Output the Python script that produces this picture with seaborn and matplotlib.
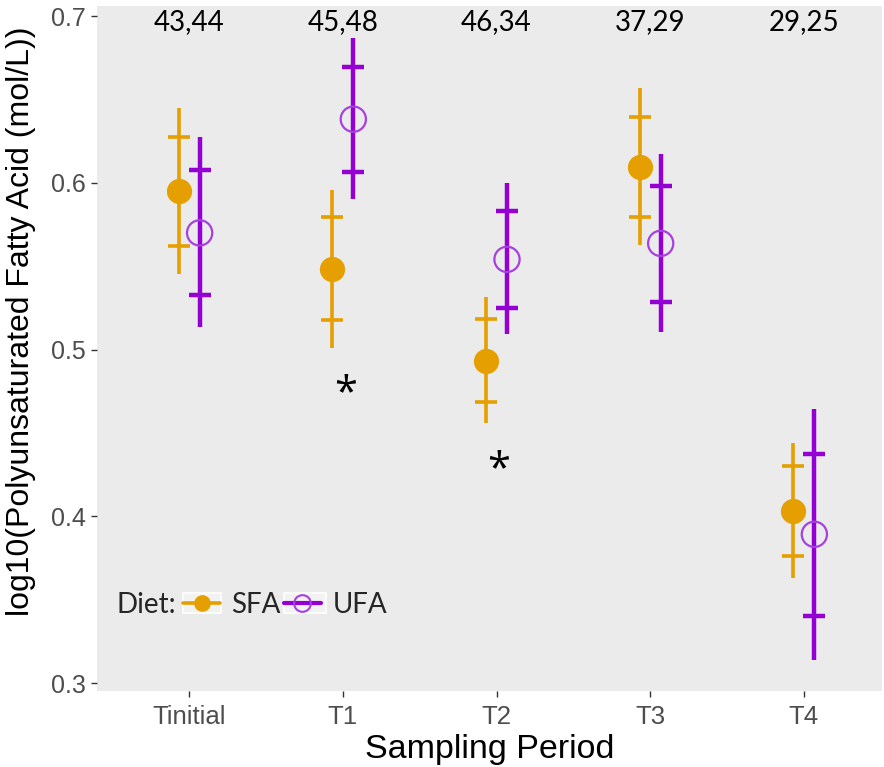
import numpy as np
import pandas as pd
import seaborn as sns
import matplotlib.pyplot as plt
from matplotlib.lines import Line2D
from matplotlib.patches import Rectangle

periods = ['Tinitial', 'T1', 'T2', 'T3', 'T4']
diets = ['SFA', 'UFA']
counts = ['43,44', '45,48', '46,34', '37,29', '29,25']

sfa_mean = [0.595, 0.5485, 0.4931, 0.6093, 0.4031]
sfa_outer_lo = [0.5452, 0.5011, 0.4561, 0.5627, 0.3628]
sfa_outer_hi = [0.6448, 0.5957, 0.5317, 0.6566, 0.4441]
sfa_inner_lo = [0.5623, 0.5177, 0.4685, 0.5793, 0.3763]
sfa_inner_hi = [0.6273, 0.5793, 0.5183, 0.6396, 0.4300]

ufa_mean = [0.570, 0.6382, 0.5541, 0.5637, 0.3892]
ufa_outer_lo = [0.5135, 0.5903, 0.5093, 0.5103, 0.3138]
ufa_outer_hi = [0.6276, 0.6870, 0.5997, 0.6172, 0.4641]
ufa_inner_lo = [0.5325, 0.6066, 0.5251, 0.5287, 0.3400]
ufa_inner_hi = [0.6076, 0.6692, 0.5832, 0.5980, 0.4373]

# significance marks
star_period = ['T1', 'T2']
star_y = [0.4733, 0.4277]

df = pd.DataFrame({
    'period': periods * 2,
    'diet': ['SFA'] * 5 + ['UFA'] * 5,
    'mean': sfa_mean + ufa_mean,
    'olo': sfa_outer_lo + ufa_outer_lo,
    'ohi': sfa_outer_hi + ufa_outer_hi,
    'ilo': sfa_inner_lo + ufa_inner_lo,
    'ihi': sfa_inner_hi + ufa_inner_hi,
})
dodge = {'SFA': -0.068, 'UFA': 0.068}
df['x'] = df['period'].map({p: i for i, p in enumerate(periods)}) + df['diet'].map(dodge)

sns.set_theme(style='white')
plt.rcParams['font.family'] = ['Liberation Sans', 'DejaVu Sans']
colors = {'SFA': '#E69F00', 'UFA': '#9400D3'}
lw = {'SFA': 2.6, 'UFA': 3.2}

fig = plt.figure(figsize=(8.84, 7.67), dpi=100)
ax = fig.add_axes([0.1097, 0.0995, 0.8875, 0.8925])
ax.set_facecolor('#EBEBEB')

for d in diets:
    sub = df[df['diet'] == d]
    ax.vlines(sub['x'], sub['olo'], sub['ohi'], color=colors[d], lw=lw[d], zorder=2)
    ax.scatter(sub['x'], sub['ilo'], marker='_', s=260, color=colors[d], linewidths=lw[d], zorder=2)
    ax.scatter(sub['x'], sub['ihi'], marker='_', s=260, color=colors[d], linewidths=lw[d], zorder=2)

sfa = df[df['diet'] == 'SFA']
ufa = df[df['diet'] == 'UFA']
sns.scatterplot(data=sfa, x='x', y='mean', color=colors['SFA'], s=330,
                edgecolor=colors['SFA'], linewidth=0, ax=ax, zorder=3, legend=False)
sns.scatterplot(data=ufa, x='x', y='mean', s=330, facecolor='none',
                edgecolor='#A640E0', linewidth=1.6, ax=ax, zorder=3, legend=False)

for i, c in enumerate(counts):
    ax.text(i, 0.6964, c, ha='center', va='center', fontsize=20, family='Lato', color='black')
for p, y in zip(star_period, star_y):
    ax.text(periods.index(p) + 0.015, y, '*', ha='center', va='center', fontsize=30,
            family='Open Sans', color='black')

ax.set_xlim(-0.6, 4.505)
ax.set_ylim(0.2954, 0.706)
ax.set_xticks(range(len(periods)))
ax.set_xticklabels(periods)
ax.set_yticks([0.3, 0.4, 0.5, 0.6, 0.7])
ax.set_yticklabels(['0.3', '0.4', '0.5', '0.6', '0.7'])
ax.tick_params(axis='both', length=4, width=1, color='#333333', labelcolor='#4D4D4D',
               bottom=True, left=True, direction='out', pad=4)
ax.tick_params(axis='y', labelsize=18)
ax.tick_params(axis='x', labelsize=18.5, pad=6)
for s in ax.spines.values():
    s.set_visible(False)
ax.set_xlabel('Sampling Period', fontsize=24.5, color='black', labelpad=4)
ax.set_ylabel('log10(Polyunsaturated Fatty Acid (mol/L))', fontsize=23, color='black')
ax.yaxis.set_label_coords(-0.078, 0.54)

# legend key boxes (ggplot style)
for x0, w in [(0.1096, 0.048), (0.2383, 0.0535)]:
    ax.add_patch(Rectangle((x0, 0.1135), w, 0.0292, transform=ax.transAxes,
                           facecolor='#F2F2F2', edgecolor='white', lw=1.2, zorder=1))

handles = [
    Line2D([], [], color=colors['SFA'], lw=2.6, marker='o', markersize=12, markerfacecolor=colors['SFA'],
           markeredgewidth=0),
    Line2D([], [], color=colors['UFA'], lw=3, marker='o', markersize=12, markerfacecolor='none',
           markeredgecolor='#A640E0', markeredgewidth=1.5),
]
ax.text(0.0255, 0.125, 'Diet:', transform=ax.transAxes, ha='left', va='center', fontsize=20,
        family='Lato')
leg = ax.legend(handles, diets, loc='center left', bbox_to_anchor=(0.1096, 0.125), ncol=2, frameon=False,
                prop={'family': 'Lato', 'size': 20}, handlelength=1.35, handletextpad=0.4,
                columnspacing=0.1, borderpad=0, borderaxespad=0)

fig.savefig('out.png', dpi=100)
